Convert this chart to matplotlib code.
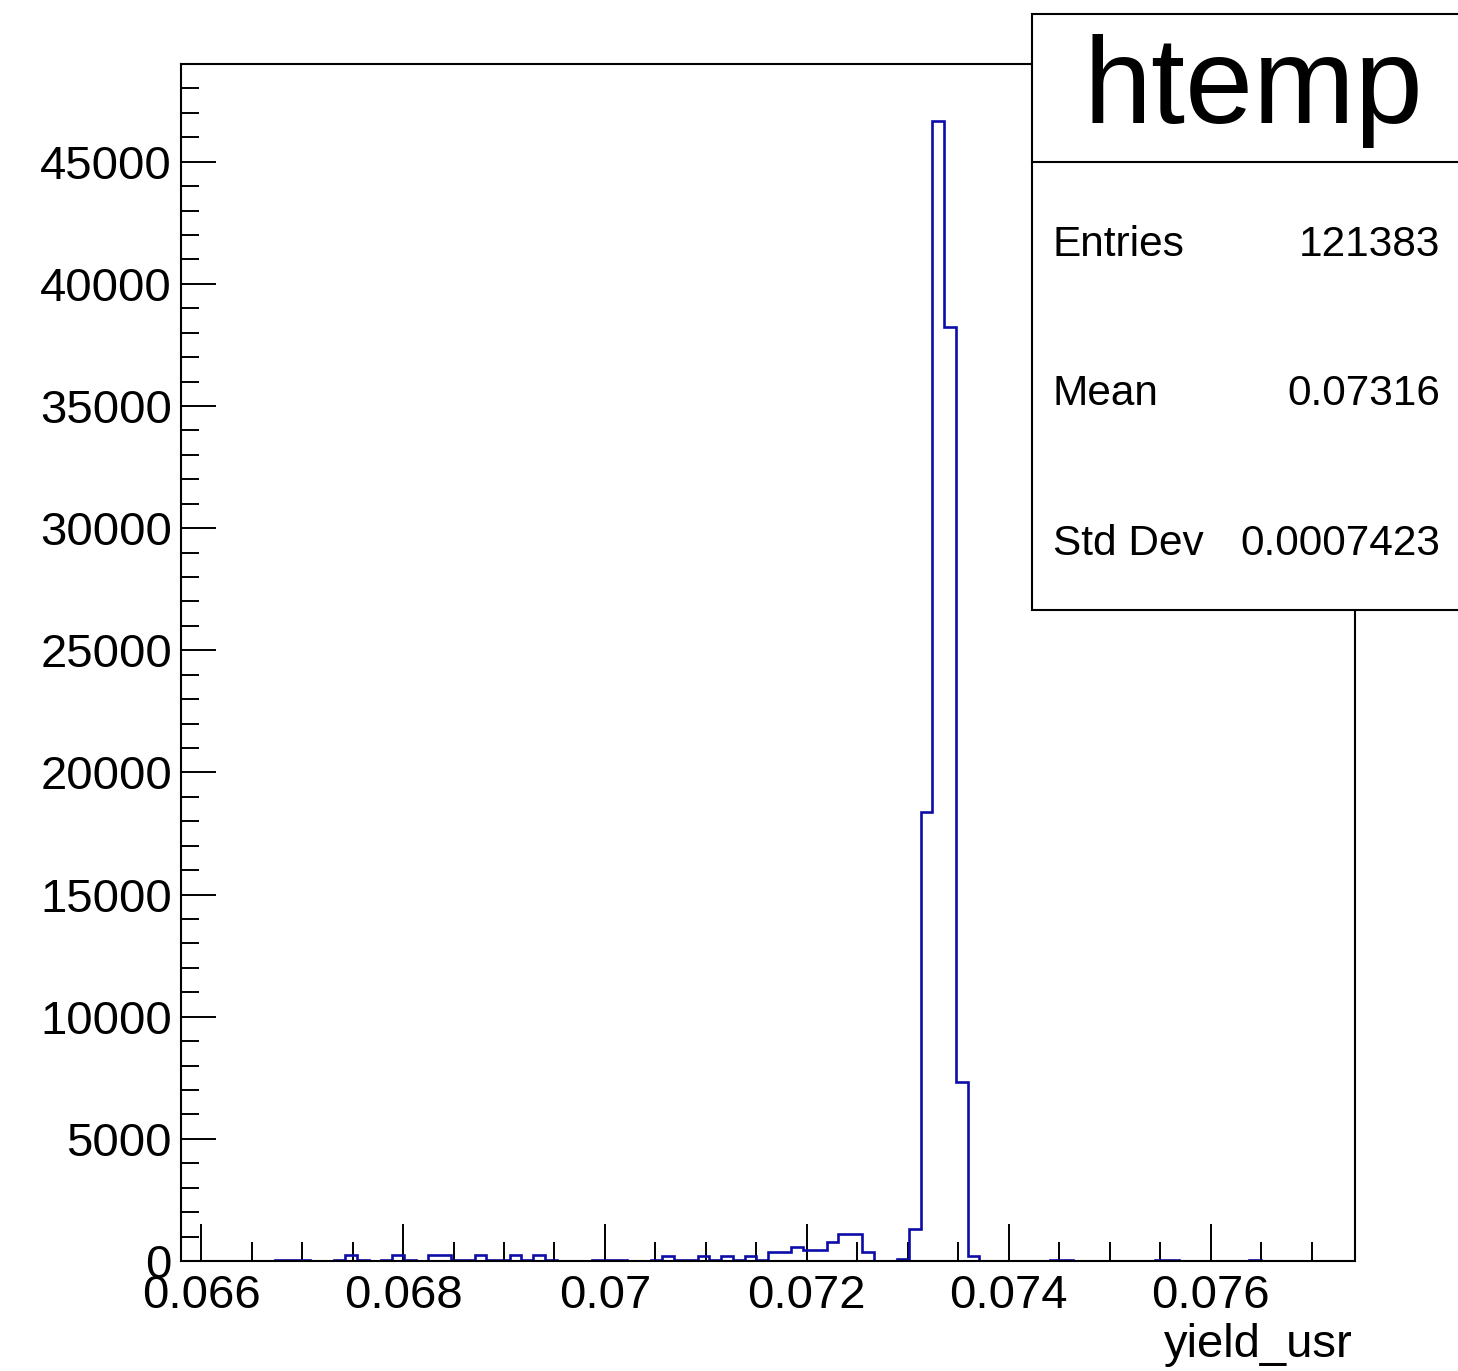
import numpy as np
import matplotlib
matplotlib.use('Agg')
import matplotlib.pyplot as plt
from matplotlib.patches import Rectangle
from matplotlib.lines import Line2D
from matplotlib.ticker import FixedLocator, MultipleLocator

plt.rcParams['font.family'] = ['Liberation Sans', 'DejaVu Sans']

# ---------------- data ----------------
x_min = 0.0658
x_max = 0.07743
n_bins = 100
bin_counts = [
    0, 0, 0, 0, 0, 0, 0, 0, 60, 60,            # 0-9
    60, 0, 0, 60, 250, 60, 0, 60, 250, 60,     # 10-19
    0, 230, 230, 60, 60, 230, 60, 60, 230, 60, # 20-29
    230, 60, 0, 0, 0, 60, 60, 60, 0, 0,        # 30-39
    60, 200, 60, 60, 200, 60, 200, 60, 225, 60,  # 40-49
    360, 360, 580, 445, 445, 785, 1115, 1115, 360, 0,  # 50-59
    0, 70, 1290, 18370, 46650, 38250, 7310, 200, 0, 0,  # 60-69
    0, 0, 0, 0, 60, 60, 0, 0, 0, 0,            # 70-79
    0, 0, 0, 60, 60, 0, 0, 0, 0, 0,            # 80-89
    0, 60, 0, 0, 0, 0, 0, 0, 0, 0,             # 90-99
]
x_major = [0.066, 0.068, 0.070, 0.072, 0.074, 0.076]
x_labels = ['0.066', '0.068', '0.07', '0.072', '0.074', '0.076']
y_major = [0, 5000, 10000, 15000, 20000, 25000, 30000, 35000, 40000, 45000]
y_labels = ['0', '5000', '10000', '15000', '20000', '25000', '30000',
            '35000', '40000', '45000']
y_max = 49000
x_title = 'yield_usr'
stats_title = 'htemp'
stats_names = ['Entries', 'Mean', 'Std Dev']
stats_values = ['121383', '0.07316', '0.0007423']

# ---------------- figure ----------------
W, H = 1458, 1371
fig = plt.figure(figsize=(W / 100, H / 100), dpi=100)
fig.patch.set_facecolor('white')

L, R, T, B = 181, 1355, 64, 1261
ax = fig.add_axes([L / W, 1 - B / H, (R - L) / W, (B - T) / H])

edges = np.linspace(x_min, x_max, n_bins + 1)
ax.stairs(bin_counts, edges, color='#0c0ca8', lw=1.9, baseline=0, zorder=2)

ax.set_xlim(x_min, x_max)
ax.set_ylim(0, y_max)

for s in ax.spines.values():
    s.set_linewidth(1.5)
    s.set_color('black')
    s.set_zorder(3)

ax.xaxis.set_major_locator(FixedLocator(x_major))
ax.set_xticklabels(x_labels)
ax.xaxis.set_minor_locator(MultipleLocator(0.0005))
ax.yaxis.set_major_locator(FixedLocator(y_major))
ax.set_yticklabels(y_labels)
ax.yaxis.set_minor_locator(MultipleLocator(1000))

ax.tick_params(axis='x', which='major', direction='in', length=26.6, width=1.4,
               labelsize=34, pad=9, top=False)
ax.tick_params(axis='x', which='minor', direction='in', length=13.7, width=1.4, top=False)
ax.tick_params(axis='y', which='major', direction='in', length=25, width=1.4,
               labelsize=34, pad=6.5, right=False)
ax.tick_params(axis='y', which='minor', direction='in', length=13, width=1.4, right=False)

fig.text(1353 / W, 1 - 1357 / H, x_title, ha='right', va='baseline', fontsize=34)

# ---------------- stats box ----------------
bx0, by_top, by_bot, by_div = 1032, 14, 610, 162
box = Rectangle((bx0 / W, 1 - by_bot / H), 0.6, (by_bot - by_top) / H,
                transform=fig.transFigure, facecolor='white', edgecolor='black',
                lw=1.5, zorder=10)
fig.add_artist(box)
fig.add_artist(Line2D([bx0 / W, 1.2], [1 - by_div / H] * 2, transform=fig.transFigure,
                      color='black', lw=1.5, zorder=11))
fig.text(1253 / W, 1 - 123 / H, stats_title, ha='center', va='baseline',
         fontsize=88, zorder=12)
for name, val, yb in zip(stats_names, stats_values, [256, 405, 555]):
    fig.text(1053 / W, 1 - yb / H, name, ha='left', va='baseline', fontsize=30.5, zorder=12)
    fig.text(1440 / W, 1 - yb / H, val, ha='right', va='baseline', fontsize=30.5, zorder=12)

fig.savefig('out.png', dpi=100)
